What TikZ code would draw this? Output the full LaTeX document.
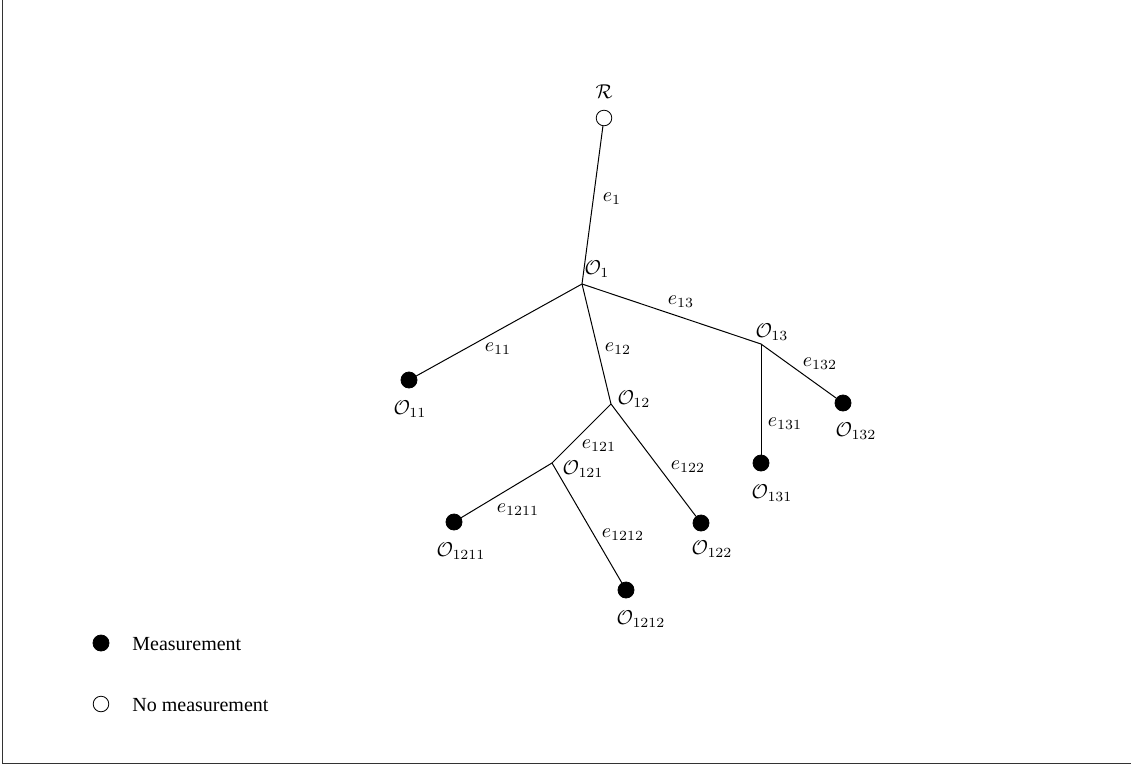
\documentclass[tikz,border=0pt]{standalone}
\usepackage{fontspec}
\setmainfont{Liberation Serif}
\begin{document}
\begin{tikzpicture}[x=0.5pt,y=-0.5pt,
  meas/.style={circle,fill=black,draw=black,inner sep=0pt,minimum size=8pt},
  nomeas/.style={circle,fill=white,draw=black,inner sep=0pt,minimum size=7.8pt},
  lbl/.style={inner sep=0pt},
  edge/.style={draw=black,line width=0.5pt}]
\useasboundingbox (0,0) rectangle (1131,766);
\draw[line width=0.7pt,black!80] (2.5,0) -- (2.5,763.5) -- (1131,763.5);
% nodes
\node[nomeas] (R) at (604,118) {};
\coordinate (O1) at (582,284);
\node[meas] (O11) at (409,380) {};
\coordinate (O12) at (611,404);
\coordinate (O13) at (761,344);
\coordinate (O121) at (552,463);
\node[meas] (O122) at (701,523) {};
\node[meas] (O131) at (761,463) {};
\node[meas] (O132) at (843,403) {};
\node[meas] (O1211) at (454,522) {};
\node[meas] (O1212) at (626,590) {};
% edges
\draw[edge] (R) -- (O1);
\draw[edge] (O1) -- (O11);
\draw[edge] (O1) -- (O12);
\draw[edge] (O1) -- (O13);
\draw[edge] (O12) -- (O121);
\draw[edge] (O12) -- (O122);
\draw[edge] (O13) -- (O131);
\draw[edge] (O13) -- (O132);
\draw[edge] (O121) -- (O1211);
\draw[edge] (O121) -- (O1212);
% node labels
\node[lbl] (lR) at (604,92) {$\mathcal{R}$};
\node[lbl] (lO1) at (597,269) {$\mathcal{O}_{1}$};
\node[lbl] (lO11) at (410,409) {$\mathcal{O}_{11}$};
\node[lbl] (lO12) at (634,399) {$\mathcal{O}_{12}$};
\node[lbl] (lO13) at (772,332) {$\mathcal{O}_{13}$};
\node[lbl] (lO121) at (583,469) {$\mathcal{O}_{121}$};
\node[lbl] (lO122) at (712,549) {$\mathcal{O}_{122}$};
\node[lbl] (lO131) at (772,493) {$\mathcal{O}_{131}$};
\node[lbl] (lO132) at (856,431) {$\mathcal{O}_{132}$};
\node[lbl] (lO1211) at (461,551) {$\mathcal{O}_{1211}$};
\node[lbl] (lO1212) at (641,619) {$\mathcal{O}_{1212}$};
% edge labels
\node[lbl] (le1) at (612,199) {$e_{1}$};
\node[lbl] (le11) at (498,349) {$e_{11}$};
\node[lbl] (le12) at (618,349) {$e_{12}$};
\node[lbl] (le13) at (681,302) {$e_{13}$};
\node[lbl] (le121) at (599,446) {$e_{121}$};
\node[lbl] (le122) at (688,467) {$e_{122}$};
\node[lbl] (le131) at (785,424) {$e_{131}$};
\node[lbl] (le132) at (820,364) {$e_{132}$};
\node[lbl] (le1211) at (518,510) {$e_{1211}$};
\node[lbl] (le1212) at (623,535) {$e_{1212}$};
% legend
\node[meas] (k1) at (101,643) {};
\node[lbl,anchor=west] (t1) at (132,644) {Measurement};
\node[nomeas] (k2) at (101,704) {};
\node[lbl,anchor=west] (t2) at (132,705) {No measurement};
\end{tikzpicture}
\end{document}
